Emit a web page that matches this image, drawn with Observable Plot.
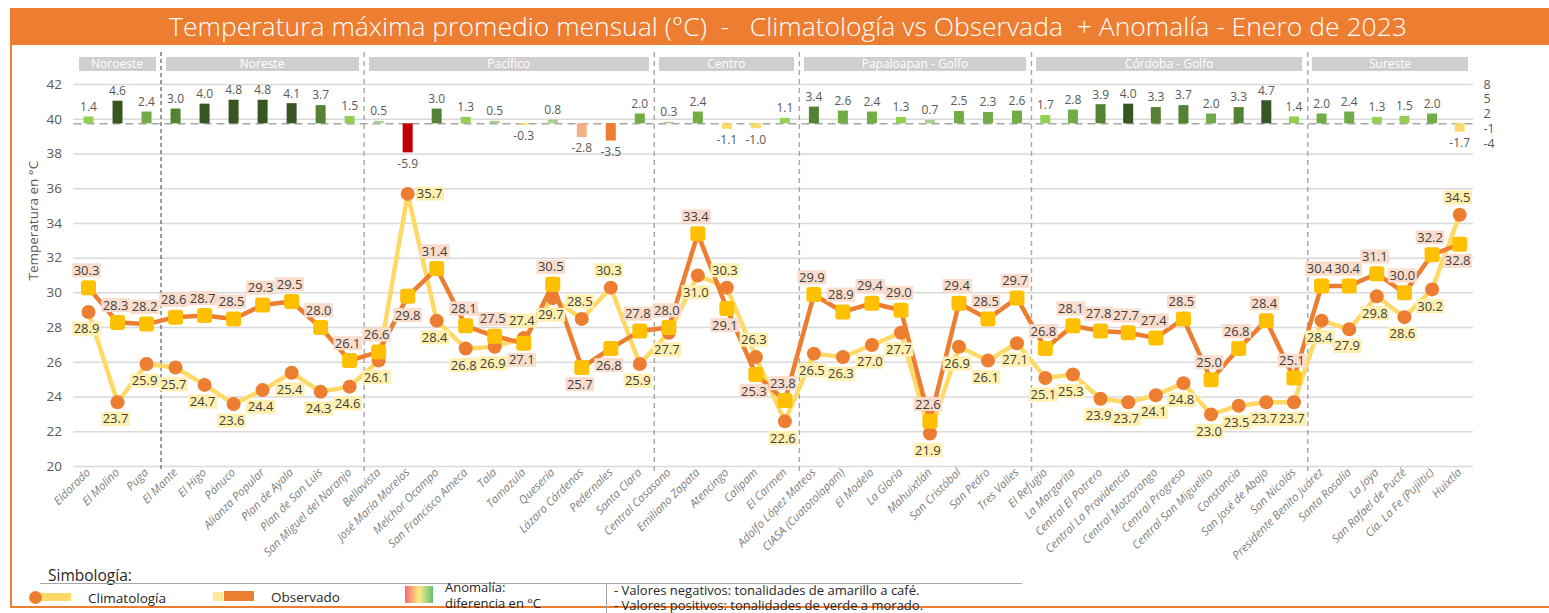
<!DOCTYPE html>
<html><head><meta charset="utf-8">
<script src="https://cdn.jsdelivr.net/npm/d3@7"></script>
<script src="https://cdn.jsdelivr.net/npm/@observablehq/plot@0.6"></script>
<style>
html,body{margin:0;padding:0;background:#fff;overflow:hidden;}
#root{position:relative;width:1549px;height:613px;overflow:hidden;font-family:"Open Sans",sans-serif;}
#frame{position:absolute;left:10px;top:8px;width:1600px;height:600px;border:2px solid #ed7d31;box-sizing:border-box;}
#titlebar{position:absolute;left:10px;top:8px;width:1600px;height:37px;background:#ed7d31;}
#title{position:absolute;left:10px;top:8px;width:1556px;height:37px;line-height:37px;text-align:center;color:#fff;font-family:"Open Sans",sans-serif;font-weight:300;font-size:26.5px;white-space:nowrap;}
.plotwrap{position:absolute;left:0;top:0;}
.hdr{position:absolute;top:57px;height:14px;background:#d0cece;color:#fff;font-size:12px;line-height:14px;text-align:center;white-space:nowrap;}
.leg{position:absolute;color:#262626;white-space:nowrap;font-family:"Open Sans",sans-serif;line-height:13px;}
</style></head><body>
<div id="root">
  <div id="frame"></div>
  <div id="titlebar"></div>
  <div id="title">Temperatura máxima promedio mensual (°C)&nbsp; -&nbsp;&nbsp; Climatología vs Observada&nbsp; + Anomalía - Enero de 2023</div>
  <div id="plots"></div>
  <div id="legend"></div>
</div>
<script>
// ---------------- DATA ----------------
const stations = ["Eldorado","El Molino","Puga","El Mante","El Higo","Pánuco","Alianza Popular","Plan de Ayala","Plan de San Luis","San Miguel del Naranjo","Bellavista","José María Morelos","Melchor Ocampo","San Francisco Ameca","Tala","Tamazula","Quesería","Lázaro Cárdenas","Pedernales","Santa Clara","Central Casasano","Emiliano Zapata","Atencingo","Calipam","El Carmen","Adolfo López Mateos","CIASA (Cuatotolapam)","El Modelo","La Gloria","Mahuixtlán","San Cristóbal","San Pedro","Tres Valles","El Refugio","La Margarita","Central El Potrero","Central La Providencia","Central Motzorongo","Central Progreso","Central San Miguelito","Constancia","San José de Abajo","San Nicolás","Presidente Benito Juárez","Santa Rosalía","La Joya","San Rafael de Pucté","Cía. La Fe (Pujiltic)","Huixtla"];
const groupNames = ["Noroeste","Noreste","Pacífico","Centro","Papaloapan - Golfo","Córdoba - Golfo","Sureste"];
const groupSizes = [3,7,10,5,8,10,6];
const climatologia = [28.9,23.7,25.9,25.7,24.7,23.6,24.4,25.4,24.3,24.6,26.1,35.7,28.4,26.8,26.9,27.4,29.7,28.5,30.3,25.9,27.7,31.0,30.3,26.3,22.6,26.5,26.3,27.0,27.7,21.9,26.9,26.1,27.1,25.1,25.3,23.9,23.7,24.1,24.8,23.0,23.5,23.7,23.7,28.4,27.9,29.8,28.6,30.2,34.5];
const observado = [30.3,28.3,28.2,28.6,28.7,28.5,29.3,29.5,28.0,26.1,26.6,29.8,31.4,28.1,27.5,27.1,30.5,25.7,26.8,27.8,28.0,33.4,29.1,25.3,23.8,29.9,28.9,29.4,29.0,22.6,29.4,28.5,29.7,26.8,28.1,27.8,27.7,27.4,28.5,25.0,26.8,28.4,25.1,30.4,30.4,31.1,30.0,32.2,32.8];
const anomalia = [1.4,4.6,2.4,3.0,4.0,4.8,4.8,4.1,3.7,1.5,0.5,-5.9,3.0,1.3,0.5,-0.3,0.8,-2.8,-3.5,2.0,0.3,2.4,-1.1,-1.0,1.1,3.4,2.6,2.4,1.3,0.7,2.5,2.3,2.6,1.7,2.8,3.9,4.0,3.3,3.7,2.0,3.3,4.7,1.4,2.0,2.4,1.3,1.5,2.0,-1.7];
const yTicks = [20,22,24,26,28,30,32,34,36,38,40,42];
const anomTicks = [8,5,2,-1,-4];
const anomThresholds = [-5,-3,-2,0,1,2,3,4];
const anomColors = ["#c00000","#ed7d31","#f4b183","#ffd966","#a9d08e","#92d050","#70ad47","#548235","#375623"];

// ---------------- BUILD ----------------
const rows = stations.map((name,i)=>({i,name,clim:climatologia[i],obs:observado[i],anom:anomalia[i]}));
const indices = rows.map(d=>d.i);
const groupStarts = [];
{let s=0; for(const n of groupSizes){groupStarts.push(s); s+=n;}}
const dividers = groupStarts.slice(1);

const W = 1549, H = 575;
const xCfg = {type:"linear", domain:[-0.5, 32.5, 48.5], range:[73.5, 1031, 1473]};
const common = {width:W, height:H, marginTop:84, marginBottom:H-466, marginLeft:73.5, marginRight:W-1473,
  style:{fontFamily:'"Open Sans", sans-serif', background:"transparent", overflow:"visible"}};

const roundSquare = {draw(ctx, size){
  const h = Math.sqrt(size/Math.PI), c = 3;
  ctx.moveTo(-h+c,-h); ctx.lineTo(h-c,-h); ctx.arcTo(h,-h,h,-h+c,c);
  ctx.lineTo(h,h-c); ctx.arcTo(h,h,h-c,h,c);
  ctx.lineTo(-h+c,h); ctx.arcTo(-h,h,-h,h-c,c);
  ctx.lineTo(-h,-h+c); ctx.arcTo(-h,-h,-h+c,-h,c); ctx.closePath();
}};

const OBS_FILL = "#3f3f3f", CLIM_FILL = "#404040";
const lab = {x:"i", fontSize:13, dx:-2};
const big = d => Math.abs(d.clim - d.obs) > 5;          // very large gap: label placed beside the point
const obsHi = d => d.obs >= d.clim;
const side = {...lab, dx:22, dy:0};

const main = Plot.plot({
  ...common,
  x:{...xCfg, axis:null},
  y:{domain:[20,42], range:[466,84], axis:null},
  marks:[
    Plot.ruleY(yTicks, {stroke:"#d9d9d9", strokeWidth:1.5}),
    Plot.ruleX(dividers.slice(0,1), {x:d=>d-0.5, stroke:"#595959", strokeWidth:1.2, strokeDasharray:"4,3", insetTop:-32, insetBottom:-6}),
    Plot.ruleX(dividers.slice(1), {x:d=>d-0.5, stroke:"#a6a6a6", strokeWidth:1.4, strokeDasharray:"5,4", insetTop:-32, insetBottom:-6}),
    Plot.axisY(yTicks, {tickSize:0, tickPadding:12, fontSize:13.5, fill:"#595959", label:null}),
    Plot.axisX(indices, {tickFormat:i=>stations[i], tickRotate:-45, tickSize:0, tickPadding:4, fontSize:11.5, fill:"#808080", fontStyle:"italic", label:null}),
    Plot.text(["Temperatura en °C"], {frameAnchor:"left", rotate:-90, dx:-40, dy:5, fontSize:13.5, fill:"#595959"}),
    Plot.line(rows, {x:"i", y:"clim", stroke:"#ffd966", strokeWidth:4.5}),
    Plot.line(rows, {x:"i", y:"obs", stroke:"#ed7d31", strokeWidth:4.5}),
    Plot.dot(rows, {x:"i", y:"clim", r:7, fill:"#ed7d31"}),
    Plot.dot(rows, {x:"i", y:"obs", r:7.5, fill:"#ffc000", symbol:roundSquare}),
    Plot.text(rows.filter(d=>obsHi(d) && !big(d)), {...lab, y:"obs", text:d=>d.obs.toFixed(1), dy:-17, fill:OBS_FILL}),
    Plot.text(rows.filter(d=>!obsHi(d) && !big(d)), {...lab, y:"obs", text:d=>d.obs.toFixed(1), dy:17, fill:OBS_FILL}),
    Plot.text(rows.filter(big), {...lab, y:"obs", text:d=>d.obs.toFixed(1), dx:0, dy:19, fill:OBS_FILL}),
    Plot.text(rows.filter(d=>!obsHi(d) && !big(d)), {...lab, y:"clim", text:d=>d.clim.toFixed(1), dy:-17, fill:CLIM_FILL}),
    Plot.text(rows.filter(d=>obsHi(d) && !big(d)), {...lab, y:"clim", text:d=>d.clim.toFixed(1), dy:17, fill:CLIM_FILL}),
    Plot.text(rows.filter(big), {...side, y:"clim", text:d=>d.clim.toFixed(1), fill:CLIM_FILL})
  ]
});

const anom = Plot.plot({
  ...common,
  x:{...xCfg, axis:null},
  y:{domain:[-4,8], range:[143,84], axis:null},
  color:{type:"threshold", domain:anomThresholds, range:anomColors},
  marks:[
    Plot.ruleY([0], {stroke:"#a6a6a6", strokeWidth:1.5, strokeDasharray:"8,5"}),
    Plot.ruleX(rows, {x:"i", y1:0, y2:"anom", stroke:"anom", strokeWidth:10}),
    Plot.text(rows.filter(d=>d.anom>=0), {x:"i", y:"anom", text:d=>d.anom.toFixed(1), dy:-10, fontSize:12, fill:"#595959"}),
    Plot.text(rows.filter(d=>d.anom<0), {x:"i", y:"anom", text:d=>d.anom.toFixed(1), dy:11, fontSize:12, fill:"#595959"}),
    Plot.axisY(anomTicks, {anchor:"right", tickSize:0, tickPadding:10, fontSize:12.5, fill:"#595959", label:null, tickFormat:d=>String(d)})
  ]
});

const plots = document.getElementById("plots");
for (const p of [main, anom]) {
  const w = document.createElement("div"); w.className = "plotwrap"; w.appendChild(p); plots.appendChild(w);
}

// label backgrounds
function addBg(svg, fillColor, bg){
  svg.querySelectorAll(`g[fill="${fillColor}"] text`).forEach(t=>{
    const b = t.getBBox();
    const r = document.createElementNS("http://www.w3.org/2000/svg","rect");
    r.setAttribute("x", b.x-1.5); r.setAttribute("y", b.y+2.5);
    r.setAttribute("width", b.width+3); r.setAttribute("height", Math.max(0,b.height-4));
    r.setAttribute("fill", bg);
    const tr = t.getAttribute("transform"); if (tr) r.setAttribute("transform", tr);
    t.parentNode.insertBefore(r, t);
  });
}
addBg(main, OBS_FILL, "#f9dccb");
addBg(main, CLIM_FILL, "#fff0b0");

// region header boxes, positioned with the plot's x scale
const sx = anom.scale("x");
groupNames.forEach((g,k)=>{
  const a = sx.apply(groupStarts[k]-0.5), b = sx.apply(groupStarts[k]+groupSizes[k]-0.5);
  const d = document.createElement("div"); d.className="hdr";
  d.style.left = (a+5)+"px"; d.style.width = (b-a-10)+"px"; d.textContent = g;
  document.getElementById("root").insertBefore(d, plots);
});

// legend
const L = document.getElementById("legend");
L.innerHTML = `
<div class="leg" style="left:48px;top:567px;font-size:15.5px;line-height:17px;">Simbología:</div>
<div style="position:absolute;left:40px;top:583px;width:982px;height:1px;background:#a6a6a6"></div>
<div style="position:absolute;left:36px;top:593px;width:35px;height:8px;background:#ffd966"></div>
<div style="position:absolute;left:29px;top:591px;width:13px;height:13px;border-radius:50%;background:#ed7d31"></div>
<div class="leg" style="left:88px;top:591px;font-size:13.5px;line-height:14px;">Climatología</div>
<div style="position:absolute;left:213px;top:592px;width:10px;height:9px;background:#ffe699"></div>
<div style="position:absolute;left:224px;top:591px;width:30px;height:10px;background:#ed7d31"></div>
<div class="leg" style="left:271px;top:590px;font-size:13.5px;line-height:14px;">Observado</div>
<div style="position:absolute;left:405px;top:586px;width:28px;height:17px;background:linear-gradient(to right,#f8696b,#ffeb84,#63be7b)"></div>
<div class="leg" style="left:445px;top:581px;font-size:13px;">Anomalía:</div>
<div class="leg" style="left:445px;top:596.5px;font-size:13px;">diferencia en °C</div>
<div style="position:absolute;left:606px;top:583px;width:1px;height:30px;background:#a6a6a6"></div>
<div class="leg" style="left:614px;top:583.5px;font-size:13px;">- Valores negativos: tonalidades de amarillo a café.</div>
<div class="leg" style="left:614px;top:598.5px;font-size:13px;">- Valores positivos: tonalidades de verde a morado.</div>
`;
</script>
</body></html>
